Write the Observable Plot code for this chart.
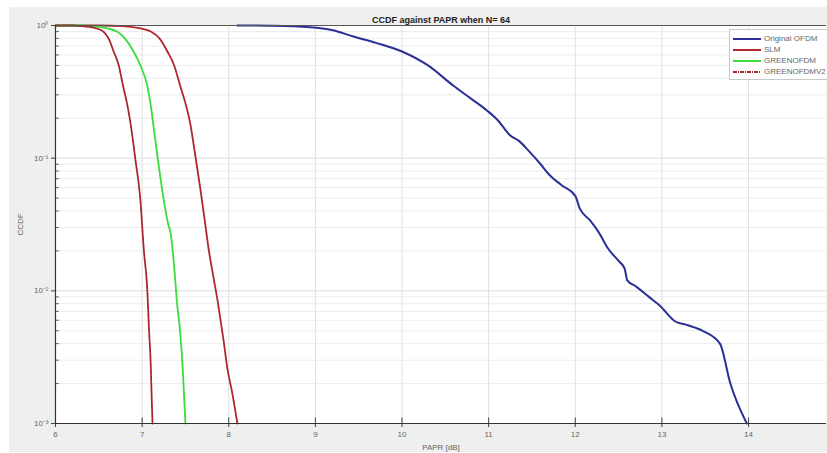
<!DOCTYPE html>
<html>
<head>
<meta charset="utf-8">
<script src="https://cdn.jsdelivr.net/npm/d3@7"></script>
<script src="https://cdn.jsdelivr.net/npm/@observablehq/plot@0.6"></script>
<style>
  html, body { margin: 0; padding: 0; background: white; }
  #wrap { position: relative; width: 827px; height: 453px; font-family: "Liberation Sans", Arial, sans-serif; }
  #bg { position: absolute; left: 9px; top: 7px; right: 0; bottom: 1px; background: #efefef; }
  #chart { position: absolute; left: 0; top: 0; }
  #legend { position: absolute; left: 729px; top: 29px; width: 97px; background: white; border: 1px solid #c8c8c8; padding: 3px 0 2px 0; font-size: 8px; color: #666; }
  #legend .row { display: flex; align-items: center; height: 11px; }
  #legend svg { margin-left: 3px; margin-right: 3px; }
</style>
</head>
<body>
<div id="wrap"><div id="bg"></div><div id="chart"></div><div id="legend"></div></div>
<script>
const seriesNames = ["Original OFDM", "SLM", "GREENOFDM", "GREENOFDMV2"];
const seriesColors = ["#2b2f96", "#b0282c", "#3ddc3d", "#a8242e"];

const ofdmX = [8.1, 8.5, 8.94, 9.2, 9.44, 9.7, 10.0, 10.3, 10.59, 10.8, 10.98, 11.1, 11.25, 11.35, 11.46, 11.6, 11.7, 11.85, 12.0, 12.05, 12.17, 12.28, 12.37, 12.5, 12.57, 12.6, 12.7, 12.85, 12.98, 13.15, 13.3, 13.47, 13.67, 13.79, 13.98];
const ofdmY = [1.0, 0.995, 0.97, 0.92, 0.826, 0.74, 0.637, 0.50, 0.353, 0.28, 0.229, 0.195, 0.148, 0.135, 0.114, 0.09, 0.075, 0.062, 0.052, 0.042, 0.034, 0.027, 0.0212, 0.0168, 0.0147, 0.012, 0.0108, 0.0090, 0.0077, 0.0059, 0.0055, 0.0050, 0.0040, 0.0020, 0.001];

const slmX = [6.0, 6.5, 6.78, 6.95, 7.1, 7.2, 7.29, 7.37, 7.44, 7.5, 7.56, 7.6, 7.67, 7.72, 7.77, 7.82, 7.87, 7.9, 7.95, 7.98, 8.04, 8.1];
const slmY = [1, 1, 0.99, 0.96, 0.90, 0.80, 0.64, 0.50, 0.35, 0.26, 0.176, 0.12, 0.06, 0.035, 0.0202, 0.013, 0.0085, 0.0063, 0.0038, 0.0027, 0.0017, 0.001];

const greenX = [6.0, 6.3, 6.44, 6.6, 6.71, 6.8, 6.9, 6.98, 7.06, 7.1, 7.13, 7.18, 7.25, 7.3, 7.33, 7.38, 7.4, 7.44, 7.47, 7.5];
const greenY = [1, 1, 0.99, 0.95, 0.90, 0.80, 0.64, 0.50, 0.35, 0.25, 0.176, 0.10, 0.048, 0.032, 0.027, 0.0126, 0.0085, 0.0048, 0.0025, 0.001];

const green2X = [6.0, 6.2, 6.3, 6.45, 6.55, 6.62, 6.67, 6.73, 6.78, 6.83, 6.87, 6.92, 6.98, 7.02, 7.06, 7.08, 7.1, 7.11, 7.12];
const green2Y = [1, 1, 0.99, 0.96, 0.90, 0.78, 0.64, 0.50, 0.35, 0.25, 0.176, 0.10, 0.048, 0.0202, 0.010, 0.005, 0.0027, 0.0016, 0.001];

const xTicks = [6, 7, 8, 9, 10, 11, 12, 13, 14];
const yTicks = [1e-3, 1e-2, 1e-1, 1];
const yTickLabels = ["10\u207B\u00B3", "10\u207B\u00B2", "10\u207B\u00B9", "10\u2070"];

const toRows = (xs, ys, name) => xs.map((x, i) => ({x, y: ys[i], name}));
const series = [
  toRows(ofdmX, ofdmY, seriesNames[0]),
  toRows(slmX, slmY, seriesNames[1]),
  toRows(greenX, greenY, seriesNames[2]),
  toRows(green2X, green2Y, seriesNames[3])
];

const minor = [];
for (const d of [1e-3, 1e-2, 1e-1]) for (let k = 2; k <= 9; k++) minor.push(d * k);

const chart = Plot.plot({
  width: 827,
  height: 453,
  marginLeft: 55,
  marginRight: 1,
  marginTop: 25,
  marginBottom: 30,
  style: {background: "transparent", fontFamily: "Liberation Sans, Arial, sans-serif", fontSize: "8px", color: "#666"},
  x: {type: "linear", domain: [6, 14.9]},
  y: {type: "log", domain: [1e-3, 1]},
  marks: [
    Plot.frame({fill: "white", stroke: null}),
    Plot.ruleY(minor, {stroke: "#ededed", strokeWidth: 1}),
    Plot.ruleY(yTicks, {stroke: "#dcdcdc", strokeWidth: 1}),
    Plot.ruleX(xTicks, {stroke: "#e0e0e0", strokeWidth: 1}),
    Plot.axisX({ticks: xTicks, tickFormat: d => String(d), tickSize: 4, tickPadding: 4, label: "PAPR [dB]", labelAnchor: "center", labelArrow: "none", labelOffset: 26, fill: "#666", stroke: "#444"}),
    Plot.axisY({ticks: yTicks, tickFormat: d => yTickLabels[yTicks.indexOf(d)], tickSize: 4, tickPadding: 3, label: "CCDF", labelAnchor: "center", labelArrow: "none", labelOffset: 38, fill: "#666", stroke: "#444"}),
    Plot.ruleY(minor, {x1: 6, x2: 6.045, stroke: "#666", strokeWidth: 1}),
    Plot.ruleX(xTicks, {y1: 1e-3, y2: 1.1e-3, stroke: "#444", strokeWidth: 1}),
    Plot.line(series[0], {x: "x", y: "y", stroke: seriesColors[0], strokeWidth: 2, curve: "monotone-x"}),
    Plot.line(series[1], {x: "x", y: "y", stroke: seriesColors[1], strokeWidth: 1.8, curve: "monotone-x"}),
    Plot.line(series[2], {x: "x", y: "y", stroke: seriesColors[2], strokeWidth: 1.8, curve: "monotone-x"}),
    Plot.line(series[3], {x: "x", y: "y", stroke: seriesColors[3], strokeWidth: 1.8, strokeDasharray: "4,1,1,1", curve: "monotone-x"}),
    Plot.ruleY([1e-3], {stroke: "#333", strokeWidth: 1.2}),
    Plot.ruleY([1], {stroke: "#555", strokeWidth: 1}),
    Plot.ruleX([6], {stroke: "#333", strokeWidth: 1.2}),
    Plot.text(["CCDF against PAPR when N= 64"], {frameAnchor: "top", dy: -9, fontWeight: "bold", fontSize: 9, fill: "#222"})
  ]
});
document.getElementById("chart").appendChild(chart);

// legend
const legend = document.getElementById("legend");
seriesNames.forEach((n, i) => {
  const row = document.createElement("div");
  row.className = "row";
  const dash = i === 3 ? ' stroke-dasharray="4,1,1,1"' : "";
  row.innerHTML = `<svg width="28" height="4"><line x1="0" y1="2" x2="28" y2="2" stroke="${seriesColors[i]}" stroke-width="2"${dash}/></svg><span>${n}</span>`;
  legend.appendChild(row);
});
</script>
</body>
</html>
